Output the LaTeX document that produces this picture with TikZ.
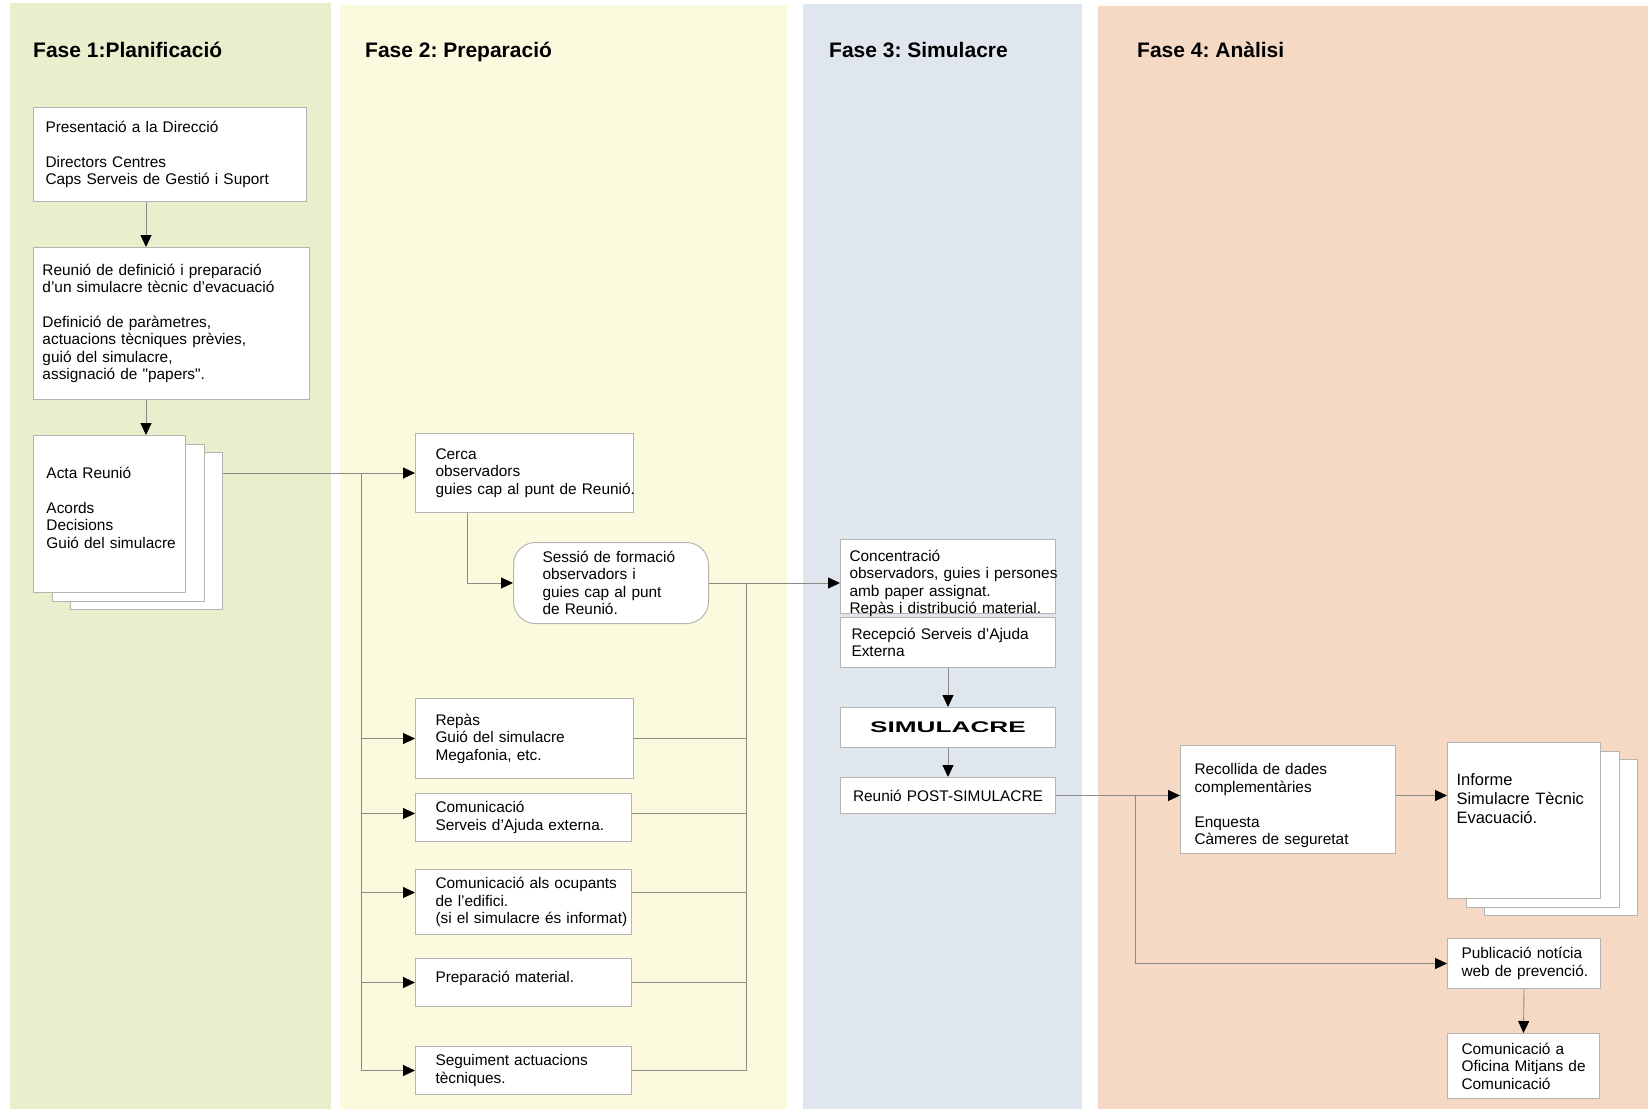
\documentclass[tikz,border=0pt]{standalone}
\usepackage{fontspec}
\usepackage{graphicx}
\setmainfont{Liberation Sans}[Ligatures=TeXOff]
\usetikzlibrary{arrows.meta,shadows}

\definecolor{fase1}{RGB}{233,238,205}
\definecolor{fase2}{RGB}{252,250,222}
\definecolor{fase3}{RGB}{223,230,238}
\definecolor{fase4}{RGB}{245,217,196}
\definecolor{vora}{RGB}{180,180,176}
\definecolor{gris}{RGB}{140,138,132}

\newcommand{\caixafont}{\fontsize{15.4}{17.5}\selectfont}
\frenchspacing

\tikzset{
	titol/.style={anchor=base west, inner sep=0pt, font=\fontsize{21}{25}\selectfont\bfseries},
	caixa/.style 2 args={draw=vora, line width=1pt, fill=white, anchor=north west, align=left,
		inner xsep=0pt, inner ysep=0pt, text width=#1, minimum height=#2, font=\caixafont},
	marge/.style={execute at begin node={\leftskip=#1\relax\rightskip=-14pt plus 1fil\relax\hyphenpenalty=10000\relax}},
	pila/.style={double copy shadow={shadow xshift=18.5pt, shadow yshift=-8.5pt, draw=vora, line width=1pt, fill=white}},
	fletxa/.style={draw=gris, line width=0.9pt, -{Triangle[length=12pt,width=11pt,color=black]}},
	linia/.style={draw=gris, line width=0.9pt},
}

\begin{document}
\begin{tikzpicture}[x=1pt, y=-1pt]
	\useasboundingbox (0,0) rectangle (1648,1109);
	\fill[fase1] (10,3) rectangle (331,1109);
	\fill[fase2] (340,5) rectangle (787,1109);
	\fill[fase3] (803,4) rectangle (1082,1109);
	\fill[fase4] (1098,6) rectangle (1648,1109);
	
	\node[titol] (t1) at (33,57) {Fase 1:Planificació};
	\node[titol] (t2) at (365,57) {Fase 2: Preparació};
	\node[titol] (t3) at (829,57) {Fase 3: Simulacre};
	\node[titol] (t4) at (1137,57) {Fase 4: Anàlisi};
	
	% Fase 1
	\node[caixa={273pt}{94pt}, marge=12pt] (pres) at (33,107) {Presentació a la Direcció\\[17.5pt]Directors Centres\\Caps Serveis de Gestió i Suport};
	\node[caixa={276pt}{152pt}, marge=9pt] (reun) at (33,247) {Reunió de definició i preparació\\d’un simulacre tècnic d’evacuació\\[17.3pt]Definició de paràmetres,\\actuacions tècniques prèvies,\\guió del simulacre,\\assignació de "papers".};
	\node[caixa={152pt}{157pt}, marge=13pt, pila, text height=42.5pt, text depth=114.5pt] (acta) at (33,435) {Acta Reunió\\[17.5pt]Acords\\Decisions\\Guió del simulacre};
	
	% Fase 2
	\node[caixa={218pt}{79pt}, marge=20pt] (cerca) at (415,433) {Cerca\\observadors\\guies cap al punt de Reunió.};
	\node[caixa={195pt}{81pt}, marge=29pt, rounded corners=22pt] (sessio) at (513,542) {Sessió de formació\\observadors i\\guies cap al punt\\de Reunió.};
	\node[caixa={218pt}{80pt}, marge=20pt] (repas) at (415,698) {Repàs\\Guió del simulacre\\Megafonia, etc.};
	\node[caixa={216pt}{48pt}, marge=20pt] (comserv) at (415,793) {Comunicació\\Serveis d’Ajuda externa.};
	\node[caixa={216pt}{65pt}, marge=20pt] (comocup) at (415,869) {Comunicació als ocupants\\de l’edifici.\\(si el simulacre és informat)};
	\node[caixa={216pt}{48pt}, marge=20pt, text height=23.5pt, text depth=24.5pt] (prepmat) at (415,958) {Preparació material.};
	\node[caixa={216pt}{48pt}, marge=20pt] (segui) at (415,1046) {Seguiment actuacions\\tècniques.};
	
	% Fase 3
	\node[caixa={215pt}{74pt}, marge=9pt, text height=21.5pt, text depth=52.5pt] (conc) at (840,539) {Concentració\\observadors, guies i persones\\amb paper assignat.\\Repàs i distribució material.};
	\node[caixa={215pt}{50pt}, marge=11pt] (recep) at (840,617) {Recepció Serveis d’Ajuda\\Externa};
	\node[caixa={215pt}{40pt}, align=center] (simul) at (840,707) {\scalebox{1.7}[1]{\bfseries SIMULACRE}};
	\node[caixa={215pt}{36pt}, align=center] (post) at (840,777) {Reunió POST-SIMULACRE};
	
	% Fase 4
	\node[caixa={215pt}{108pt}, marge=14pt, text height=29pt, text depth=79pt] (recoll) at (1180,745) {Recollida de dades\\complementàries\\[17.5pt]Enquesta\\Càmeres de seguretat};
	\node[caixa={153pt}{156pt}, marge=9pt, pila, font=\fontsize{16.5}{19}\selectfont, text height=43pt, text depth=113pt] (inform) at (1447,742) {Informe\\Simulacre Tècnic\\Evacuació.};
	\node[caixa={153pt}{50pt}, marge=14pt] (publ) at (1447,938) {Publicació notícia\\web de prevenció.};
	\node[caixa={152pt}{65pt}, marge=14pt] (comun) at (1447,1033) {Comunicació a\\Oficina Mitjans de\\Comunicació};
	
	\coordinate (f1) at ([xshift=113pt]pres.south west);
	\coordinate (actaR) at ([xshift=37pt]acta.east);
	\coordinate (busL) at (361,0);
	\coordinate (busR) at (746,0);
	\coordinate (busP) at (1135,0);
	
	\draw[fletxa] (f1) -- (f1 |- reun.north);
	\draw[fletxa] (f1 |- reun.south) -- (f1 |- acta.north);
	\draw[fletxa] (actaR |- cerca.west) -- (cerca.west);
	\draw[linia] (busL |- cerca.west) -- (busL |- segui.west);
	\draw[fletxa] ([xshift=52pt]cerca.south west) |- (sessio.west);
	\draw[fletxa] (busL |- repas.west) -- (repas.west);
	\draw[fletxa] ([yshift=4pt]busL |- comserv.west) -- ([yshift=4pt]comserv.west);
	\draw[fletxa] ([yshift=9.5pt]busL |- comocup.west) -- ([yshift=9.5pt]comocup.west);
	\draw[fletxa] (busL |- prepmat.west) -- (prepmat.west);
	\draw[fletxa] (busL |- segui.west) -- (segui.west);
	
	\draw[linia] (repas.east) -- (busR |- repas.east);
	\draw[linia] ([yshift=4pt]comserv.east) -- ([yshift=4pt]busR |- comserv.east);
	\draw[linia] ([yshift=9.5pt]comocup.east) -- ([yshift=9.5pt]busR |- comocup.east);
	\draw[linia] (prepmat.east) -- (busR |- prepmat.east);
	\draw[linia] (segui.east) -- (busR |- segui.east);
	\draw[linia] (busR |- sessio.east) -- (busR |- segui.east);
	\draw[fletxa] (sessio.east) -- (conc.west |- sessio.east);
	
	\draw[fletxa] (recep.south) -- (simul.north);
	\draw[fletxa] (simul.south) -- (post.north);
	\draw[fletxa] (post.east) -- (recoll.west |- post.east);
	\draw[fletxa] (busP |- post.east) |- (publ.west);
	\draw[fletxa] (recoll.east |- post.east) -- (inform.west |- post.east);
	\draw[fletxa] (publ.south) -- (comun.north);
\end{tikzpicture}
\end{document}
